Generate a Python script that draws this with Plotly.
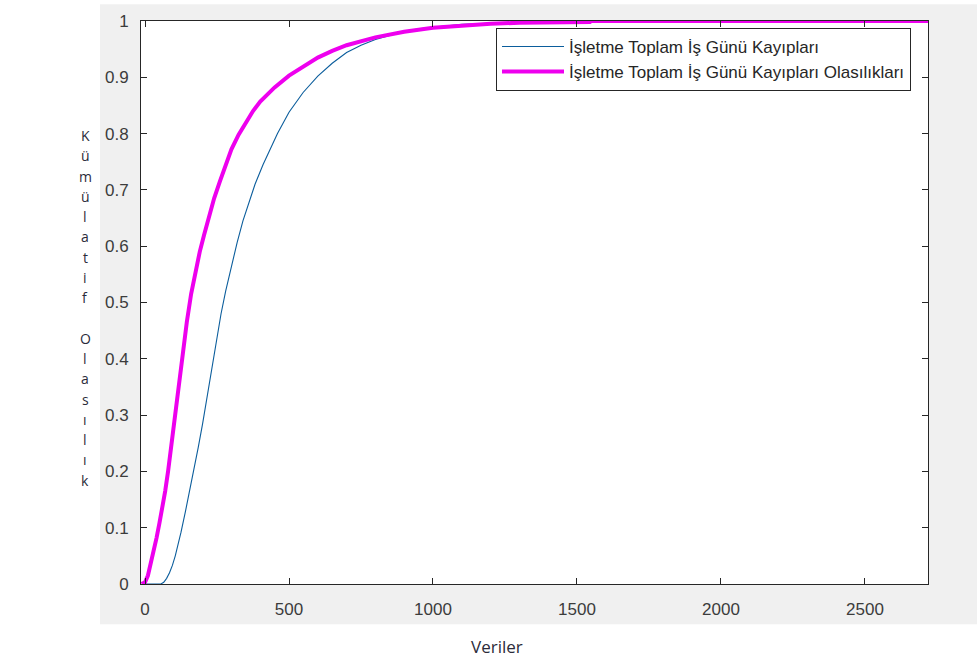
import plotly.graph_objects as go

# ---- data ----
x_kayip = [0, 55, 65, 75, 85, 95, 105, 115, 125, 140, 155, 170, 185, 200, 215, 230, 245, 264,
           280, 300, 320, 340, 360, 382, 410, 434, 460, 500, 549, 600, 650, 700, 750, 800,
           875, 950, 1000, 1100, 1200, 1300, 1545, 1550, 2719]
y_kayip = [0, 0, 0.003, 0.01, 0.02, 0.033, 0.05, 0.07, 0.092, 0.128, 0.165, 0.203, 0.243,
           0.285, 0.33, 0.375, 0.425, 0.48, 0.52, 0.565, 0.607, 0.645, 0.677, 0.71, 0.745,
           0.772, 0.8, 0.838, 0.873, 0.902, 0.925, 0.944, 0.957, 0.967, 0.978, 0.986, 0.989,
           0.994, 0.996, 0.997, 0.998, 1.0, 1.0]

x_olas = [-12, 0, 10, 20, 30, 40, 50, 60, 70, 80, 90, 100, 110, 120, 130, 145, 160, 175, 190,
          205, 220, 240, 260, 280, 300, 325, 350, 375, 400, 450, 500, 550, 600, 650, 700, 800,
          900, 1000, 1100, 1200, 1300, 1545, 1550, 2719]
y_olas = [0, 0.003, 0.015, 0.035, 0.057, 0.082, 0.108, 0.135, 0.165, 0.2, 0.24, 0.28, 0.325,
          0.37, 0.41, 0.465, 0.515, 0.555, 0.59, 0.62, 0.65, 0.685, 0.715, 0.745, 0.772, 0.798,
          0.82, 0.84, 0.857, 0.882, 0.903, 0.92, 0.935, 0.947, 0.957, 0.971, 0.981, 0.988,
          0.992, 0.995, 0.997, 0.998, 1.0, 1.0]

name_kayip = "İşletme Toplam İş Günü Kayıpları"
name_olas = "İşletme Toplam İş Günü Kayıpları Olasılıkları"

x_ticks = [0, 500, 1000, 1500, 2000, 2500]
y_ticks = [0, 0.1, 0.2, 0.3, 0.4, 0.5, 0.6, 0.7, 0.8, 0.9, 1]
y_tick_text = ["0", "0.1", "0.2", "0.3", "0.4", "0.5", "0.6", "0.7", "0.8", "0.9", "1"]

x_title = "Veriler"
y_title = "Kümülatif Olasılık"

# ---- layout geometry (pixels) ----
W, H = 977, 663
L, R, T, B = 141, 49, 12, 79
PW, PH = W - L - R, H - T - B


def px_x(p):
    return (p - L) / PW


def px_y(p):
    return (H - B - p) / PH


fig = go.Figure()
fig.add_trace(go.Scatter(x=x_kayip, y=y_kayip, mode="lines", name=name_kayip,
                         line=dict(color="#0b5d9c", width=1.1)))
fig.add_trace(go.Scatter(x=x_olas, y=y_olas, mode="lines", name=name_olas,
                         line=dict(color="#ee00ee", width=4)))

axis_common = dict(showline=True, linecolor="#262626", linewidth=1, mirror="ticks",
                   ticks="inside", ticklen=6, tickcolor="#262626", showgrid=False,
                   zeroline=False,
                   tickfont=dict(family="Liberation Sans, Arial", size=17, color="#3c3c3c"))

fig.update_xaxes(range=[-14, 2719], tickvals=x_ticks, ticklabelstandoff=10, **axis_common)
fig.update_yaxes(range=[0, 1], tickvals=y_ticks, ticktext=y_tick_text,
                 ticklabelstandoff=8, **axis_common)

shapes = [
    dict(type="rect", xref="paper", yref="paper", layer="below",
         x0=px_x(100), x1=px_x(W + 5), y0=px_y(625), y1=px_y(-5),
         fillcolor="#f0f0f0", line=dict(width=0)),
    dict(type="rect", xref="paper", yref="paper", layer="below",
         x0=0, x1=1, y0=0, y1=1, fillcolor="white", line=dict(width=0)),
]

annotations = []
# vertical stacked y-axis title, one character per line
y_start, step = 128.3, 20.6
for i, ch in enumerate(y_title):
    if ch == " ":
        continue
    annotations.append(dict(text=ch, xref="paper", yref="paper", x=px_x(85),
                            y=px_y(y_start + i * step), showarrow=False,
                            xanchor="center", yanchor="middle",
                            font=dict(family="Open Sans", size=14, color="#2b2b3a")))
annotations.append(dict(text=x_title, xref="paper", yref="paper", x=px_x(497), y=px_y(647),
                        showarrow=False, xanchor="center", yanchor="middle",
                        font=dict(family="Open Sans", size=17, color="#2b2b3a")))

fig.update_layout(
    width=W, height=H,
    margin=dict(l=L, r=R, t=T, b=B),
    paper_bgcolor="white", plot_bgcolor="white",
    shapes=shapes, annotations=annotations,
    showlegend=True,
    legend=dict(x=px_x(911), xanchor="right", y=px_y(19), yanchor="top",
                bgcolor="white", bordercolor="#262626", borderwidth=1,
                itemwidth=62,
                font=dict(family="Liberation Sans, Arial", size=17, color="#262626"),
                tracegroupgap=0),
)

fig.write_html("out.html")
